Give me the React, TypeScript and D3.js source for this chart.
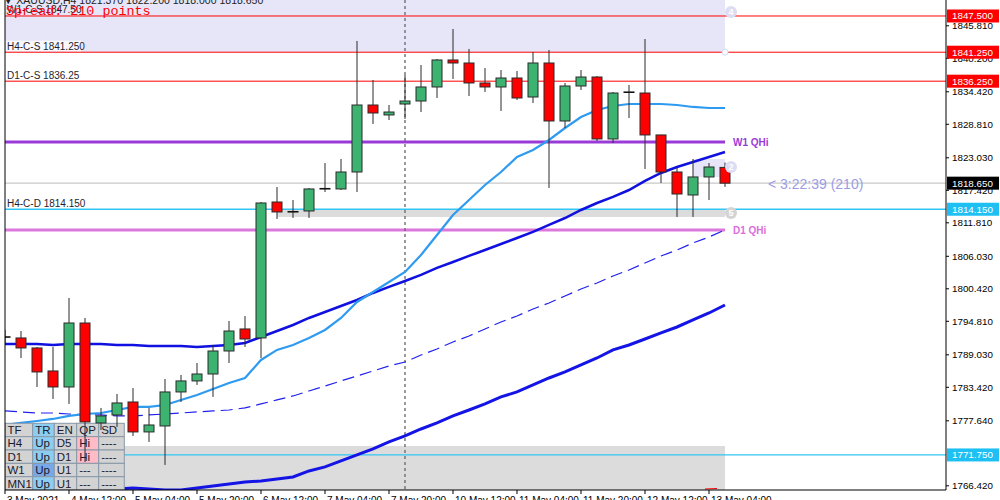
import React from "react";
import * as d3 from "d3";

// ---- candle data (XAUUSD H4, 3 May 2021 20:00 .. 13 May 08:00) ----
const opens = [1792.2, 1791.94, 1790.21, 1786.24, 1783.48, 1794.52, 1777.27, 1778.65, 1780.89, 1775.72, 1776.75, 1782.62, 1784.52, 1785.72, 1789.69, 1793.49, 1791.94, 1815.4, 1813.68, 1813.85, 1817.65, 1817.65, 1820.58, 1832.14, 1830.42, 1832.31, 1832.83, 1835.25, 1839.91, 1839.39, 1835.94, 1835.25, 1836.8, 1833.52, 1839.39, 1829.38, 1835.42, 1836.97, 1826.28, 1834.39, 1834.21, 1826.97, 1820.58, 1816.61, 1819.72, 1821.37];
const highs = [1793.32, 1793.14, 1790.38, 1790.38, 1798.84, 1795.39, 1779.86, 1782.27, 1783.31, 1779.86, 1784.86, 1785.55, 1787.62, 1790.73, 1794.87, 1795.73, 1815.4, 1817.99, 1815.75, 1817.82, 1822.13, 1822.82, 1843.19, 1836.46, 1832.14, 1837.32, 1839.04, 1840.08, 1845.26, 1841.81, 1838.53, 1838.18, 1838.01, 1841.29, 1841.63, 1835.94, 1838.18, 1837.15, 1834.39, 1835.59, 1843.53, 1827.0, 1821.27, 1822.82, 1822.13, 1822.2];
const lows = [1790.73, 1788.48, 1783.48, 1781.41, 1780.55, 1770.54, 1776.06, 1776.58, 1775.03, 1773.99, 1770.02, 1780.89, 1783.83, 1781.76, 1787.62, 1790.38, 1788.48, 1812.47, 1812.64, 1812.64, 1817.13, 1817.47, 1817.13, 1828.86, 1829.55, 1829.73, 1830.93, 1833.35, 1836.63, 1833.7, 1834.39, 1831.11, 1833.01, 1832.49, 1817.82, 1828.17, 1834.73, 1825.93, 1825.59, 1829.9, 1821.1, 1818.68, 1812.82, 1812.82, 1815.75, 1818.0];
const closes = [1792.0, 1790.21, 1786.07, 1783.48, 1794.52, 1777.44, 1778.48, 1780.72, 1775.72, 1776.92, 1782.62, 1784.52, 1785.72, 1789.69, 1793.14, 1791.76, 1815.23, 1813.68, 1813.75, 1817.65, 1817.73, 1820.58, 1832.14, 1830.76, 1830.93, 1832.83, 1835.25, 1839.91, 1839.39, 1835.94, 1835.25, 1836.8, 1833.35, 1839.39, 1829.38, 1835.42, 1836.97, 1826.28, 1834.21, 1834.3, 1826.97, 1820.58, 1816.78, 1819.72, 1821.44, 1818.65];

// ---- moving averages ----
const maFast = [1776.92, 1777.27, 1777.61, 1777.96, 1778.48, 1778.82, 1778.99, 1779.51, 1780.03, 1780.03, 1780.37, 1781.24, 1782.1, 1783.14, 1784.17, 1785.03, 1788.14, 1789.87, 1790.73, 1791.94, 1793.32, 1795.39, 1798.15, 1799.87, 1801.6, 1803.33, 1806.26, 1809.71, 1813.16, 1815.75, 1818.34, 1820.58, 1823.17, 1824.38, 1826.1, 1828.17, 1830.07, 1831.28, 1831.97, 1832.31, 1832.31, 1832.31, 1832.14, 1831.8, 1831.62, 1831.62];
const maMid = [1790.9, 1790.9, 1790.9, 1790.73, 1790.9, 1790.9, 1790.9, 1790.73, 1790.73, 1790.56, 1790.56, 1790.56, 1790.38, 1790.56, 1790.73, 1791.07, 1792.11, 1793.14, 1794.18, 1795.39, 1796.42, 1797.46, 1798.49, 1799.7, 1800.74, 1801.77, 1802.81, 1804.02, 1805.05, 1806.09, 1807.12, 1808.16, 1809.19, 1810.23, 1811.44, 1812.64, 1814.02, 1815.23, 1816.27, 1817.47, 1819.03, 1820.41, 1821.44, 1822.31, 1823.17, 1824.03];
const maDashed = [1779.34, 1779.17, 1778.99, 1778.99, 1778.82, 1778.65, 1778.65, 1778.48, 1778.48, 1778.65, 1778.82, 1778.99, 1779.17, 1779.34, 1779.51, 1779.86, 1780.55, 1781.24, 1781.93, 1782.79, 1783.65, 1784.52, 1785.38, 1786.24, 1787.1, 1787.79, 1789.0, 1790.04, 1791.25, 1792.28, 1793.49, 1794.7, 1795.73, 1796.94, 1797.98, 1799.18, 1800.39, 1801.43, 1802.63, 1803.67, 1804.88, 1806.09, 1807.12, 1808.33, 1809.36, 1810.57];
const maSlow: (number | null)[] = [null, null, null, null, null, null, null, 1765.88, 1766.05, 1765.88, 1765.71, 1765.71, 1766.05, 1766.4, 1766.74, 1767.09, 1767.26, 1767.61, 1767.95, 1768.99, 1769.68, 1770.71, 1771.75, 1772.78, 1773.99, 1775.03, 1776.23, 1777.27, 1778.48, 1779.51, 1780.55, 1781.76, 1782.62, 1783.83, 1785.03, 1786.07, 1787.28, 1788.48, 1789.87, 1790.73, 1791.76, 1792.8, 1793.83, 1795.04, 1796.25, 1797.63];

// ---- axes ----
const timeLabels = ["3 May 2021", "4 May 12:00", "5 May 04:00", "5 May 20:00", "6 May 12:00", "7 May 04:00", "7 May 20:00", "10 May 12:00", "11 May 04:00", "11 May 20:00", "12 May 12:00", "13 May 04:00"];
const timeLabelBars = [0, 4, 8, 12, 16, 20, 24, 28, 32, 36, 40, 44];
const priceTicks = [1845.81, 1840.2, 1834.42, 1828.81, 1823.03, 1817.42, 1811.81, 1806.03, 1800.42, 1794.81, 1789.03, 1783.42, 1777.64, 1766.42];
const weekSeparatorBar = 25;

// ---- levels & zones ----
const resistanceLevels = [1847.5, 1841.25, 1836.25];
const supportLevels = [1814.15, 1771.75];
const bidPrice = 1818.65;
const w1QHi = 1825.76;
const d1QHi = 1810.57;
const levelTexts = ["W1-C-S 1847.50", "H4-C-S 1841.250", "D1-C-S 1836.25", "H4-C-D 1814.150"];
const levelTextPrices = [1847.5, 1841.25, 1836.25, 1814.15];
const upperZone = [1841.25, 1850.26];
const lowerZone = [1765.7, 1773.3];
const supportZone = [1812.82, 1814.15];
const supportZoneStartBar = 17;
const pivotZone = [1819.72, 1822.82];
const pivotZoneStartBar = 43;

// ---- dashboard table ----
const tableHeader = ["TF", "TR", "EN", "QP", "SD"];
const tfRows = ["H4", "D1", "W1", "MN1"];
const trRows = ["Up", "Up", "Up", "Up"];
const enRows = ["D5", "D1", "U1", "U1"];
const qpRows = ["Hi", "Hi", "---", "---"];
const sdRows = ["----", "----", "----", "----"];

const headerText = "▼ XAUUSD,H4  1821.370 1822.200 1818.000 1818.650";
const spreadText = "Spread: 210 points";
const timerText = "< 3:22:39 (210)";

export default function App() {
  const W = 1000, H = 500;
  const plotL = 5, plotR = 946, plotB = 490;
  const n = opens.length;
  const x = d3.scaleLinear().domain([0, n - 1]).range([5, 725]);
  const y = d3.scaleLinear().domain([1765.7, 1850.26]).range([plotB, 0]);
  const lastX = x(n - 1);

  const line = d3
    .line<number | null>()
    .defined((v) => v != null)
    .x((_, i) => x(i))
    .y((v) => y(v as number));

  const font = "'Liberation Sans', Arial, sans-serif";
  const axisLabelBox = (price: number, bg: string, fg: string, key: string) => (
    <g key={key}>
      <rect x={947} y={y(price) - 6.5} width={52} height={13} fill={bg} />
      <text x={952} y={y(price)} dy="0.35em" fontSize={9.8} fill={fg} fontFamily={font}>
        {price.toFixed(3)}
      </text>
    </g>
  );

  // table geometry
  const tX = [5, 32.7, 54.3, 76.7, 98.7, 124.3];
  const tY0 = 423.3;
  const rowH = 13.35;
  const grayCell = "#d3d3d3";
  const lightBlue = "#8dcdf0";
  const midBlue = "#78a8e8";
  const pink = "#ffbcc6";
  const columns = [tfRows, trRows, enRows, qpRows, sdRows];
  const cellFill = (r: number, c: number) => {
    if (c === 1) return r === 3 ? midBlue : lightBlue;
    if (c === 3 && r >= 1 && qpRows[r - 1] === "Hi") return pink;
    return grayCell;
  };

  return (
    <svg width={W} height={H} style={{ position: "absolute", left: 0, top: 0, background: "#fff" }}>
      <defs>
        <clipPath id="plot">
          <rect x={plotL} y={0} width={plotR - plotL} height={plotB} />
        </clipPath>
      </defs>
      <rect x={0} y={0} width={W} height={H} fill="#fff" />
      <g clipPath="url(#plot)">
        {/* zones */}
        <rect x={plotL} y={y(upperZone[1])} width={lastX - plotL} height={y(upperZone[0]) - y(upperZone[1])} fill="#e6e6f8" />
        <rect x={plotL} y={y(lowerZone[1])} width={lastX - plotL} height={y(lowerZone[0]) - y(lowerZone[1])} fill="#dcdcdc" />
        <rect x={x(supportZoneStartBar)} y={y(supportZone[1])} width={lastX - x(supportZoneStartBar)} height={y(supportZone[0]) - y(supportZone[1])} fill="#dcdcdc" />
        <rect x={x(pivotZoneStartBar)} y={y(pivotZone[1])} width={lastX - x(pivotZoneStartBar)} height={y(pivotZone[0]) - y(pivotZone[1])} fill="#e6e6f8" />

        {/* level lines */}
        {resistanceLevels.map((p) => (
          <line key={"r" + p} x1={plotL} x2={plotR} y1={y(p)} y2={y(p)} stroke="#ff0000" strokeWidth={1} />
        ))}
        <line x1={plotL} x2={plotR} y1={y(bidPrice)} y2={y(bidPrice)} stroke="#c8c8c8" strokeWidth={1.2} />
        {supportLevels.map((p) => (
          <line key={"s" + p} x1={plotL} x2={plotR} y1={y(p)} y2={y(p)} stroke="#33c6f4" strokeWidth={1.3} />
        ))}
        <line x1={plotL} x2={lastX} y1={y(w1QHi)} y2={y(w1QHi)} stroke="#9a3ad8" strokeWidth={3} />
        <line x1={plotL} x2={lastX} y1={y(d1QHi)} y2={y(d1QHi)} stroke="#dc78dc" strokeWidth={3} />

        {/* week separator */}
        <line x1={x(weekSeparatorBar)} x2={x(weekSeparatorBar)} y1={0} y2={plotB} stroke="#666" strokeWidth={1.3} strokeDasharray="3,3" />

        {/* moving averages */}
        <path d={line(maSlow) || ""} fill="none" stroke="#1414e6" strokeWidth={3} />
        <path d={line(maDashed) || ""} fill="none" stroke="#2020f0" strokeWidth={1.2} strokeDasharray="12,6" />
        <path d={line(maMid) || ""} fill="none" stroke="#1010e0" strokeWidth={2.5} />
        <path d={line(maFast) || ""} fill="none" stroke="#2f9bf0" strokeWidth={2.2} />

        {/* table */}
        <g fontFamily={font} fontSize={11.5} fill="#1a1a2e">
          {[0, 1, 2, 3, 4].map((r) =>
            [0, 1, 2, 3, 4].map((c) => (
              <g key={r + "-" + c}>
                <rect
                  x={tX[c]}
                  y={tY0 + r * rowH}
                  width={tX[c + 1] - tX[c]}
                  height={rowH}
                  fill={r === 0 ? (c === 1 ? lightBlue : grayCell) : cellFill(r, c)}
                  stroke="#8898a8"
                  strokeWidth={1}
                />
                <text x={tX[c] + 2.5} y={tY0 + r * rowH + rowH / 2} dy="0.36em">
                  {r === 0 ? tableHeader[c] : columns[c][r - 1]}
                </text>
              </g>
            ))
          )}
        </g>

        {/* candles */}
        {opens.map((o, i) => {
          const c = closes[i];
          const cx = x(i);
          const yo = y(o), yc = y(c);
          const top = Math.min(yo, yc);
          const h = Math.abs(yo - yc);
          const up = c >= o;
          const doji = h < 1.6;
          return (
            <g key={"c" + i}>
              <line x1={cx} x2={cx} y1={y(highs[i])} y2={y(lows[i])} stroke="#2b2b2b" strokeWidth={1} />
              {doji ? (
                <line x1={cx - 5.5} x2={cx + 5.5} y1={(yo + yc) / 2} y2={(yo + yc) / 2} stroke="#111" strokeWidth={1.6} />
              ) : (
                <rect x={cx - 5} y={top} width={10} height={h} fill={up ? "#3cb371" : "#ff0000"} stroke="#2b2b2b" strokeWidth={1} />
              )}
            </g>
          );
        })}

        {/* level texts */}
        {levelTexts.map((t, i) => (
          <g key={"lt" + i}>
            {i === 1 && <rect x={6} y={y(levelTextPrices[i]) - 11.5} width={75} height={10.5} fill="#ffffff" opacity={0.75} />}
            <text x={7} y={y(levelTextPrices[i]) - 2.5} fontSize={10} fontFamily={font} fill="#1e1e30">
              {t}
            </text>
          </g>
        ))}

        {/* zone markers */}
        <circle cx={731} cy={12} r={6} fill="#dcdcf2" />
        <text x={731} y={12} dy="0.35em" textAnchor="middle" fontSize={9} fontWeight="bold" fill="#fff" fontFamily={font}>4</text>
        <circle cx={lastX} cy={y(upperZone[0])} r={3} fill="#fff" stroke="#d8d8ee" />
        <circle cx={731} cy={167} r={6} fill="#dcdcf2" />
        <text x={731} y={167} dy="0.35em" textAnchor="middle" fontSize={9} fontWeight="bold" fill="#fff" fontFamily={font}>2</text>
        <circle cx={731} cy={213} r={6} fill="#d4d4d4" />
        <text x={731} y={213} dy="0.35em" textAnchor="middle" fontSize={9} fontWeight="bold" fill="#fff" fontFamily={font}>5</text>

        <line x1={705} x2={717} y1={489} y2={488.5} stroke="#ff0000" strokeWidth={1} />
      </g>

      {/* QHi labels & timer */}
      <text x={733} y={y(w1QHi) + 3.8} fontSize={10} fontWeight="bold" fill="#9a3ad8" fontFamily={font}>W1 QHi</text>
      <text x={733} y={y(d1QHi) + 3.8} fontSize={10} fontWeight="bold" fill="#dc6ddc" fontFamily={font}>D1 QHi</text>
      <text x={768} y={y(bidPrice) + 6} fontSize={14} fill="#9c9ce6" fontFamily={font}>{timerText}</text>

      {/* header & spread */}
      <text x={3} y={4} fontSize={10.5} fill="#222" fontFamily={font}>{headerText}</text>
      <text x={6} y={14.5} fontSize={13.4} fill="#ff0000" fontFamily="'Liberation Mono', 'Courier New', monospace">{spreadText}</text>

      {/* frame */}
      <line x1={plotL} x2={plotL} y1={0} y2={plotB} stroke="#000" strokeWidth={1} />
      <line x1={plotR} x2={plotR} y1={0} y2={plotB} stroke="#000" strokeWidth={1} />
      <line x1={plotL} x2={plotR} y1={plotB} y2={plotB} stroke="#000" strokeWidth={1} />

      {/* price axis */}
      {priceTicks.map((p) => (
        <g key={"pt" + p}>
          <line x1={plotR} x2={plotR + 3} y1={y(p)} y2={y(p)} stroke="#000" />
          <text x={952} y={y(p)} dy="0.35em" fontSize={9.8} fill="#000" fontFamily={font}>
            {p.toFixed(3)}
          </text>
        </g>
      ))}
      {resistanceLevels.map((p) => axisLabelBox(p, "#ff0000", "#fff", "rl" + p))}
      {axisLabelBox(bidPrice, "#000", "#fff", "bid")}
      {supportLevels.map((p) => axisLabelBox(p, "#1ec0f4", "#fff", "sl" + p))}

      {/* time axis */}
      {timeLabelBars.map((b, i) => (
        <g key={"tl" + i}>
          <line x1={x(b)} x2={x(b)} y1={plotB} y2={plotB + 4} stroke="#000" />
          <text x={x(b) + 2} y={503.5} fontSize={10} fill="#000" fontFamily={font}>
            {timeLabels[i]}
          </text>
        </g>
      ))}
    </svg>
  );
}
